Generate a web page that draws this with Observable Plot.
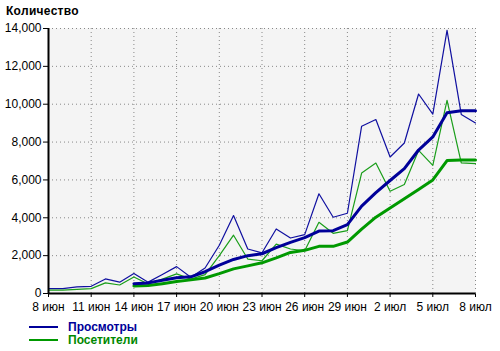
<!DOCTYPE html>
<html><head><meta charset="utf-8">
<script src="https://cdn.jsdelivr.net/npm/d3@7"></script>
<script src="https://cdn.jsdelivr.net/npm/@observablehq/plot@0.6"></script>
<style>
body{margin:0;background:#fff;font-family:"Liberation Sans",Arial,sans-serif;}
#wrap{position:relative;width:500px;height:351px;}
#title{position:absolute;left:6px;top:4px;font-weight:bold;font-size:12px;letter-spacing:0.3px;line-height:14px}
#chart{position:absolute;left:0;top:0}
.leg{position:absolute;left:29px;font-weight:bold;font-size:12px;line-height:14px;display:flex;align-items:center}
.leg .sw{display:inline-block;width:29px;height:2px;margin-right:10px}
</style></head>
<body><div id="wrap"><div id="chart"></div><div id="title">Количество</div>
<div class="leg" style="top:320px;color:#000099"><span class="sw" style="background:#000099"></span>Просмотры</div>
<div class="leg" style="top:333px;color:#008800"><span class="sw" style="background:#009900"></span>Посетители</div>
</div>
<script>
const days = ["2012-06-08","2012-06-09","2012-06-10","2012-06-11","2012-06-12","2012-06-13","2012-06-14","2012-06-15","2012-06-16","2012-06-17","2012-06-18","2012-06-19","2012-06-20","2012-06-21","2012-06-22","2012-06-23","2012-06-24","2012-06-25","2012-06-26","2012-06-27","2012-06-28","2012-06-29","2012-06-30","2012-07-01","2012-07-02","2012-07-03","2012-07-04","2012-07-05","2012-07-06","2012-07-07","2012-07-08"];
const views    = [260,260,350,380,770,600,1055,600,1000,1420,860,1350,2550,4120,2350,2150,3410,2930,3110,5270,4030,4240,8840,9190,7210,7950,10540,9480,13900,9460,9010];
const visitors = [180,180,220,260,560,450,870,500,760,1040,760,1000,2000,3080,1820,1730,2610,2350,2260,3760,3180,3320,6360,6890,5400,5760,7560,6770,10200,6900,6860];
// smoothed series start at 14 июн (index 6)
const avgStart = 6;
const viewsAvg    = [520,560,700,830,880,1150,1500,1800,2000,2100,2420,2700,2950,3300,3320,3640,4620,5330,5970,6600,7580,8270,9550,9650,9650];
const visitorsAvg = [400,420,520,630,720,820,1050,1300,1460,1620,1880,2170,2280,2490,2490,2720,3400,4030,4520,5000,5500,6000,7020,7050,7050];
const tickDays = ["2012-06-08","2012-06-11","2012-06-14","2012-06-17","2012-06-20","2012-06-23","2012-06-26","2012-06-29","2012-07-02","2012-07-05","2012-07-08"];
const monthNames = ["янв","фев","мар","апр","май","июн","июл","авг","сен","окт","ноя","дек"];
const yTicks = [0,2000,4000,6000,8000,10000,12000,14000];

const parse = s => new Date(s + "T00:00:00Z");
const daily = days.map((d,i)=>({date: parse(d), views: views[i], visitors: visitors[i]}));
const avg = viewsAvg.map((v,i)=>({date: parse(days[i+avgStart]), views: v, visitors: visitorsAvg[i]}));
const tickDates = tickDays.map(parse);
const fmtDate = d => `${d.getUTCDate()} ${monthNames[d.getUTCMonth()]}`;

const blue = "#000099", blueThin = "#1010a0", green = "#009900", greenThin = "#1a9e1a";

const chart = Plot.plot({
  width: 500, height: 320,
  marginTop: 28, marginBottom: 27, marginLeft: 48, marginRight: 25,
  style: {fontFamily: "'Liberation Sans', Arial, sans-serif", fontSize: "12px", background: "transparent", color: "#000"},
  x: {type: "utc", domain: [tickDates[0], tickDates[tickDates.length-1]], ticks: tickDates, tickFormat: fmtDate, tickSize: 4, tickPadding: 5, label: null},
  y: {domain: [0, 14000], ticks: yTicks, tickFormat: d3.format(","), tickSize: 5, tickPadding: 2, label: null},
  marks: [
    Plot.frame({fill: "#f4f4f4", stroke: null}),
    Plot.ruleY(yTicks.slice(1), {stroke: "#888", strokeDasharray: "1,3", strokeWidth: 1}),
    Plot.ruleX(tickDates.slice(1), {stroke: "#888", strokeDasharray: "1,3", strokeWidth: 1}),
    Plot.lineY(daily, {x: "date", y: "views", stroke: blueThin, strokeWidth: 1.2}),
    Plot.lineY(daily, {x: "date", y: "visitors", stroke: greenThin, strokeWidth: 1.2}),
    Plot.lineY(avg, {x: "date", y: "visitors", stroke: green, strokeWidth: 3}),
    Plot.lineY(avg, {x: "date", y: "views", stroke: blue, strokeWidth: 3}),
    Plot.ruleX([tickDates[0]], {stroke: "#000", strokeWidth: 2}),
    Plot.ruleY([0], {stroke: "#000", strokeWidth: 2})
  ]
});
document.getElementById("chart").appendChild(chart);
</script>
</body></html>
